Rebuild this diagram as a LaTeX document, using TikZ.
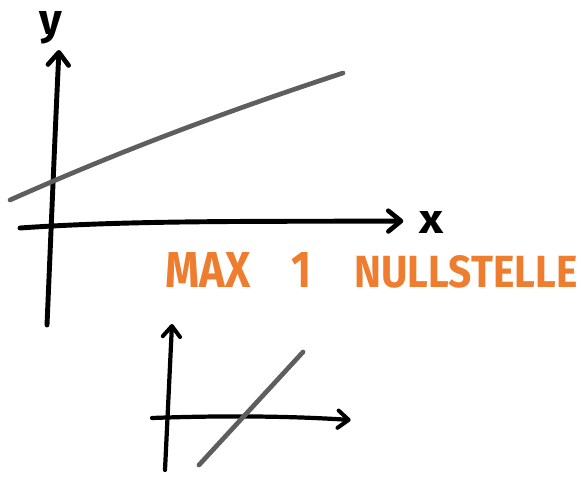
\documentclass[tikz,border=0pt]{standalone}
\usepackage{fontspec}
\usepackage{graphicx}
\setmainfont{Fira Sans}
\usetikzlibrary{arrows.meta}
\definecolor{sketchorange}{HTML}{EF7D2F}
\definecolor{sketchgray}{HTML}{5E5E5E}
\begin{document}
\begin{tikzpicture}[
  axis/.style={line width=4.2pt, line cap=round, line join=round, black,
    -{Straight Barb[length=0.38cm,width=0.62cm,line width=4pt,round]}},
  smallaxis/.style={line width=3.6pt, line cap=round, line join=round, black,
    -{Straight Barb[length=0.32cm,width=0.52cm,line width=3.4pt,round]}},
  graph/.style={line width=4pt, line cap=round, sketchgray},
  lbl/.style={inner sep=0pt, font=\bfseries},
  note/.style={inner sep=0pt, text=sketchorange, font=\bfseries}
]
\useasboundingbox (0,0) rectangle (17.43,-14.31);
% main plot
\coordinate (yb) at (1.41,-9.75);
\coordinate (yt) at (1.77,-1.50);
\coordinate (xl) at (0.60,-6.84);
\coordinate (xr) at (12.10,-6.63);
\coordinate (ga) at (0.30,-6.00);
\coordinate (gb) at (10.29,-2.19);
\draw[axis] (yb) .. controls (1.55,-6.5) and (1.65,-4) .. (yt);
\draw[axis] (xl) .. controls (4,-6.6) and (8,-6.65) .. (xr);
\draw[graph] (ga) .. controls (3,-4.8) and (6,-3.6) .. (gb);
\node[lbl, anchor=north] (ylab) at (1.53,-0.34) {\resizebox*{0.68cm}{0.98cm}{y}};
\node[lbl] (xlab) at (12.95,-6.68) {\resizebox*{0.72cm}{0.66cm}{x}};
% text
\node[note] (tmax) at (6.24,-8.10) {\resizebox{2.55cm}{1.05cm}{MAX}};
\node[note] (tone) at (9.06,-8.10) {\resizebox{0.6cm}{1.05cm}{1}};
\node[note] (tnull) at (13.98,-8.16) {\resizebox{6.69cm}{0.96cm}{NULLSTELLE}};
% small plot
\coordinate (syb) at (4.95,-14.10);
\coordinate (syt) at (5.16,-9.72);
\coordinate (sxl) at (4.56,-12.54);
\coordinate (sxr) at (10.52,-12.60);
\coordinate (sga) at (5.97,-13.95);
\coordinate (sgb) at (9.09,-10.56);
\draw[smallaxis] (syb) -- (syt);
\draw[smallaxis] (sxl) .. controls (7,-12.45) and (9,-12.5) .. (sxr);
\draw[graph] (sga) -- (sgb);
\end{tikzpicture}
\end{document}
